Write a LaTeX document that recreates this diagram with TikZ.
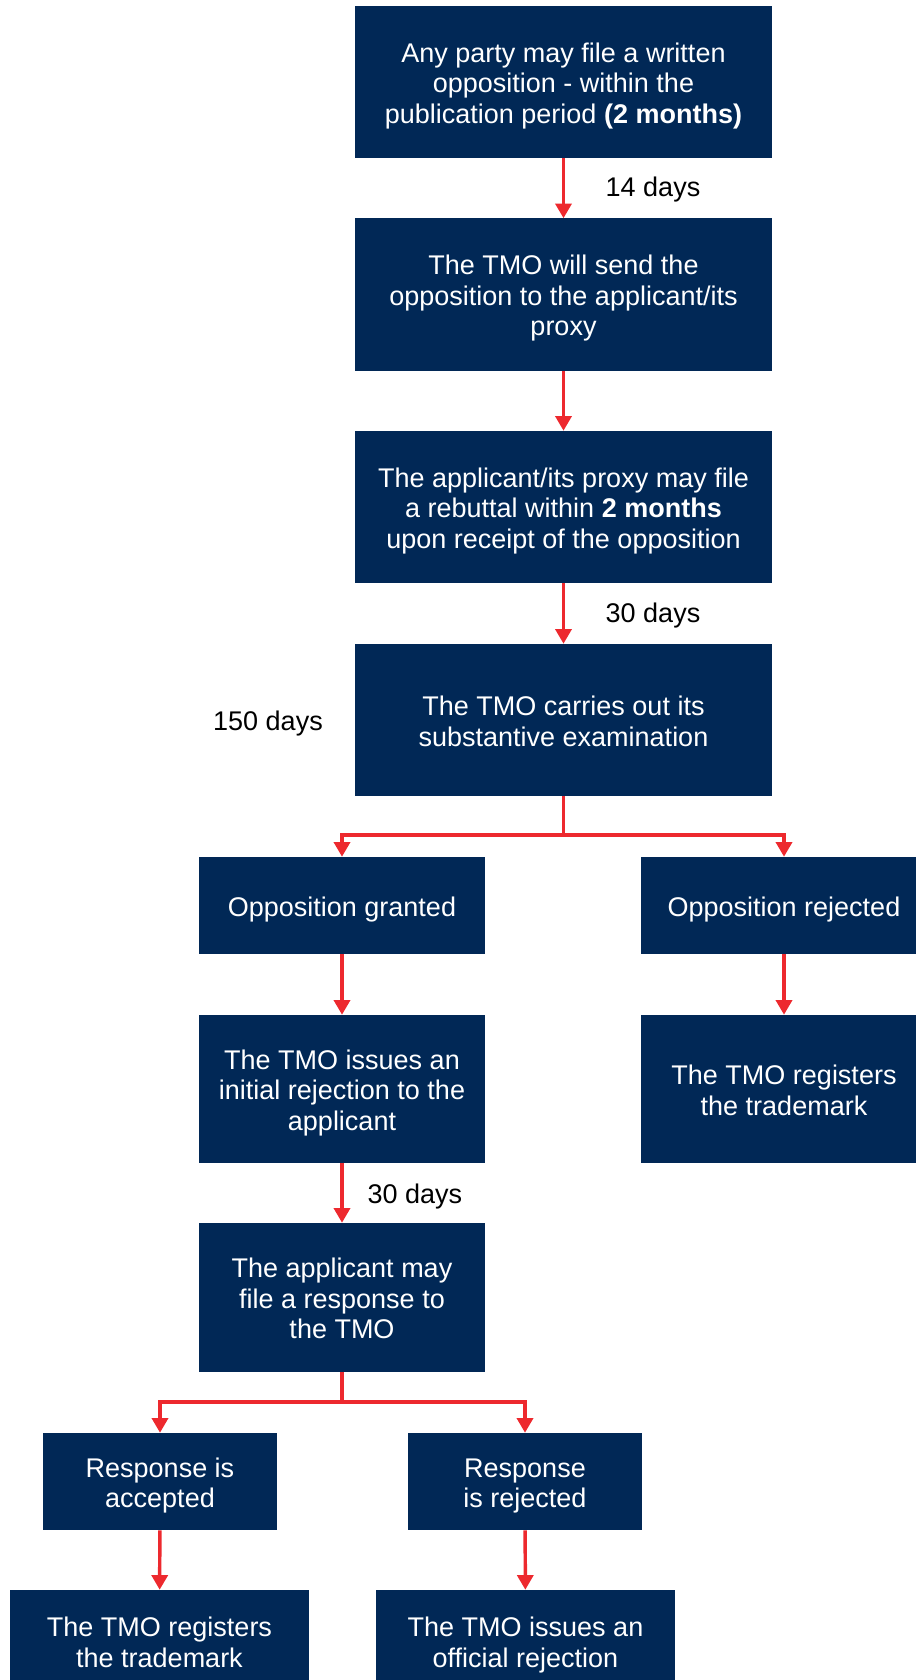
\documentclass[tikz,border=0pt]{standalone}
\usepackage{fontspec}
\setmainfont{Liberation Sans}
\usetikzlibrary{arrows.meta}
\definecolor{navy}{RGB}{1,40,86}
\definecolor{arrowred}{RGB}{237,41,46}
% struts on the first and last line keep the text block evenly placed
\newcommand\btxt[1]{\rule{0pt}{20.5pt}#1\rule[-4.3pt]{0pt}{0pt}}

\begin{document}
\begin{tikzpicture}[x=0.75pt,y=-0.75pt,
  txt/.style={font=\fontsize{20.25pt}{22.8pt}\selectfont},
  box/.style={txt, fill=navy, text=white, align=center, inner sep=0pt},
  wide/.style={box, minimum width=312.75pt, minimum height=114pt},
  mid/.style={box, minimum width=214.5pt},
  small/.style={box, minimum width=175.5pt, minimum height=72.75pt},
  last/.style={box, minimum width=224.25pt, minimum height=76.5pt},
  flow/.style={draw=arrowred, line width=2.6pt, -{Triangle[width=12pt,length=11pt]}},
  lbl/.style={txt, text=black}]
\useasboundingbox (0,0) rectangle (916,1680);
\clip (0,0) rectangle (916,1680);

% main column
\node[wide] (b1) at (563.5,82) {\btxt{Any party may file a written\\opposition - within the\\publication period \textbf{(2 months)}}};
\node[wide] (b2) at (563.5,294.5) {\btxt{The TMO will send the\\opposition to the applicant/its\\proxy}};
\node[wide] (b3) at (563.5,507) {\btxt{The applicant/its proxy may file\\a rebuttal within \textbf{2 months}\\upon receipt of the opposition}};
\node[wide] (b4) at (563.5,720) {\btxt{The TMO carries out its\\substantive examination}};

% outcome of the examination
\node[mid, minimum height=72.75pt] (b5) at (342,905.5) {\btxt{Opposition granted}};
\node[mid, minimum height=72.75pt] (b6) at (784,905.5) {\btxt{Opposition rejected}};
\node[mid, minimum height=111pt] (b7) at (342,1089) {\btxt{The TMO issues an\\initial rejection to the\\applicant}};
\node[mid, minimum height=111pt] (b8) at (784,1089) {\btxt{The TMO registers\\the trademark}};
\node[mid, minimum height=111.75pt] (b9) at (342,1297.5) {\btxt{The applicant may\\file a response to\\the TMO}};

% outcome of the response
\node[small] (b10) at (160,1481.5) {\btxt{Response is\\accepted}};
\node[small] (b11) at (525,1481.5) {\btxt{Response\\is rejected}};
\node[last] (b12) at (159.5,1641) {\btxt{The TMO registers\\the trademark}};
\node[last] (b13) at (525.5,1641) {\btxt{The TMO issues an\\official rejection}};

% time labels
\node[lbl] (d14) at (653,190) {14 days};
\node[lbl] (d30a) at (653,616) {30 days};
\node[lbl] (d150) at (268,724) {150 days};
\node[lbl] (d30b) at (415,1197) {30 days};

% junction points
\coordinate (j1) at (563.5,835);
\coordinate (j2) at (342,1402);

% connectors
\draw[flow] (b1) -- (b2);
\draw[flow] (b2) -- (b3);
\draw[flow] (b3) -- (b4);
\draw[flow] (b4.south) -- (j1) -| (b5.north);
\draw[flow] (j1) -| (b6.north);
\draw[flow] (b5) -- (b7);
\draw[flow] (b6) -- (b8);
\draw[flow] (b7) -- (b9);
\draw[flow] (b9.south) -- (j2) -| (b10.north);
\draw[flow] (j2) -| (b11.north);
\draw[flow] (b10) -- (b12);
\draw[flow] (b11) -- (b13);
\end{tikzpicture}
\end{document}
